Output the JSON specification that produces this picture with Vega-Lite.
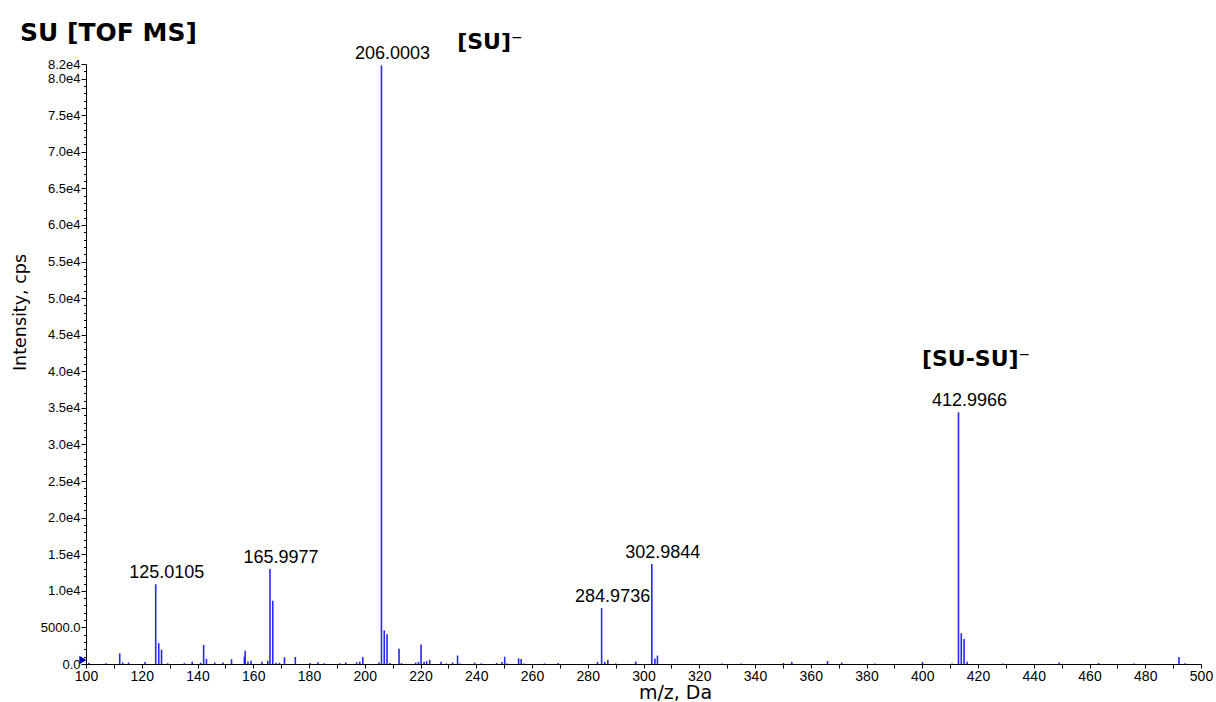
{
  "$schema": "https://vega.github.io/schema/vega-lite/v6.json",
  "width": 1115,
  "height": 600,
  "autosize": {"type": "none"},
  "padding": {"left": 86, "top": 64, "right": 15, "bottom": 38},
  "background": "white",
  "config": {
    "view": {"stroke": null},
    "font": "Liberation Sans",
    "axis": {"labelOverlap": false, "labelFlush": false, "labelBound": false, "grid": false}
  },
  "title": {
    "text": "SU [TOF MS]",
    "anchor": "start",
    "frame": "group",
    "font": "DejaVu Sans",
    "fontWeight": "bold",
    "fontSize": 25,
    "color": "#000000",
    "dx": -66,
    "dy": 35,
    "offset": 0,
    "baseline": "alphabetic"
  },
  "datasets": {
    "peaks": [
      {"mz": 101.0, "intensity": 150},
      {"mz": 107.2, "intensity": 100},
      {"mz": 112.1, "intensity": 1450},
      {"mz": 113.2, "intensity": 200},
      {"mz": 115.3, "intensity": 200},
      {"mz": 121.2, "intensity": 270},
      {"mz": 125.0105, "intensity": 10900},
      {"mz": 126.1, "intensity": 2850},
      {"mz": 127.1, "intensity": 1960},
      {"mz": 129.3, "intensity": 100},
      {"mz": 135.3, "intensity": 120},
      {"mz": 138.1, "intensity": 300},
      {"mz": 141.1, "intensity": 180},
      {"mz": 142.2, "intensity": 2600},
      {"mz": 143.2, "intensity": 700},
      {"mz": 146.2, "intensity": 200},
      {"mz": 149.1, "intensity": 200},
      {"mz": 152.2, "intensity": 650},
      {"mz": 156.8, "intensity": 1000},
      {"mz": 157.1, "intensity": 1820},
      {"mz": 158.1, "intensity": 350},
      {"mz": 159.2, "intensity": 450},
      {"mz": 163.1, "intensity": 320},
      {"mz": 165.2, "intensity": 450},
      {"mz": 165.9977, "intensity": 13000},
      {"mz": 167.0, "intensity": 8650},
      {"mz": 168.2, "intensity": 180},
      {"mz": 169.4, "intensity": 180},
      {"mz": 171.2, "intensity": 920},
      {"mz": 175.1, "intensity": 960},
      {"mz": 180.4, "intensity": 150},
      {"mz": 183.2, "intensity": 230},
      {"mz": 185.5, "intensity": 100},
      {"mz": 191.0, "intensity": 100},
      {"mz": 193.2, "intensity": 200},
      {"mz": 197.1, "intensity": 230},
      {"mz": 198.2, "intensity": 320},
      {"mz": 199.3, "intensity": 950},
      {"mz": 205.1, "intensity": 200},
      {"mz": 206.0003, "intensity": 81800},
      {"mz": 207.0, "intensity": 4600},
      {"mz": 208.0, "intensity": 4050},
      {"mz": 209.0, "intensity": 150},
      {"mz": 212.3, "intensity": 2100},
      {"mz": 213.2, "intensity": 120},
      {"mz": 218.3, "intensity": 200},
      {"mz": 219.3, "intensity": 280},
      {"mz": 220.2, "intensity": 2650},
      {"mz": 221.3, "intensity": 320},
      {"mz": 222.2, "intensity": 380},
      {"mz": 223.3, "intensity": 570},
      {"mz": 227.4, "intensity": 320},
      {"mz": 229.2, "intensity": 80},
      {"mz": 231.5, "intensity": 200},
      {"mz": 233.3, "intensity": 1160},
      {"mz": 234.2, "intensity": 80},
      {"mz": 239.4, "intensity": 180},
      {"mz": 241.8, "intensity": 80},
      {"mz": 247.3, "intensity": 140},
      {"mz": 249.2, "intensity": 280},
      {"mz": 250.2, "intensity": 1000},
      {"mz": 251.1, "intensity": 80},
      {"mz": 255.2, "intensity": 770},
      {"mz": 256.1, "intensity": 680},
      {"mz": 257.1, "intensity": 80},
      {"mz": 264.5, "intensity": 80},
      {"mz": 269.4, "intensity": 140},
      {"mz": 283.5, "intensity": 270},
      {"mz": 284.9736, "intensity": 7650},
      {"mz": 286.1, "intensity": 300},
      {"mz": 287.2, "intensity": 550},
      {"mz": 290.0, "intensity": 80},
      {"mz": 297.2, "intensity": 330},
      {"mz": 302.9844, "intensity": 13650},
      {"mz": 304.1, "intensity": 750},
      {"mz": 305.0, "intensity": 1150},
      {"mz": 328.2, "intensity": 80},
      {"mz": 335.0, "intensity": 70},
      {"mz": 350.2, "intensity": 140},
      {"mz": 353.2, "intensity": 270},
      {"mz": 366.0, "intensity": 400},
      {"mz": 371.1, "intensity": 180},
      {"mz": 383.0, "intensity": 70},
      {"mz": 400.1, "intensity": 280},
      {"mz": 410.7, "intensity": 80},
      {"mz": 412.9966, "intensity": 34400},
      {"mz": 414.0, "intensity": 4200},
      {"mz": 415.0, "intensity": 3400},
      {"mz": 416.1, "intensity": 320},
      {"mz": 429.0, "intensity": 70},
      {"mz": 449.1, "intensity": 220},
      {"mz": 463.3, "intensity": 140},
      {"mz": 476.0, "intensity": 70},
      {"mz": 492.1, "intensity": 950},
      {"mz": 494.3, "intensity": 100}
    ],
    "labels": [
      {"mz": 125.0105, "intensity": 10900, "label": "125.0105"},
      {"mz": 165.9977, "intensity": 13000, "label": "165.9977"},
      {"mz": 206.0003, "intensity": 81800, "label": "206.0003"},
      {"mz": 284.9736, "intensity": 7650, "label": "284.9736"},
      {"mz": 302.9844, "intensity": 13650, "label": "302.9844"},
      {"mz": 412.9966, "intensity": 34400, "label": "412.9966"}
    ],
    "ions": [
      {"mz": 244.9, "intensity": 85000, "ion": "[SU]⁻"},
      {"mz": 419.3, "intensity": 41680, "ion": "[SU-SU]⁻"}
    ],
    "marker": [
      {"mz": 98.9, "intensity": 550}
    ]
  },
  "encoding": {
    "x": {
      "field": "mz",
      "type": "quantitative",
      "scale": {"domain": [100, 500], "nice": false, "zero": false},
      "axis": {
        "values": [100,110,120,130,140,150,160,170,180,190,200,210,220,230,240,250,260,270,280,290,300,310,320,330,340,350,360,370,380,390,400,410,420,430,440,450,460,470,480,490,500],
        "labelExpr": "datum.value % 20 == 0 ? datum.label : ''",
        "grid": false,
        "tickSize": 4,
        "tickColor": "#000000",
        "domainColor": "#000000",
        "labelColor": "#000000",
        "labelFontSize": 14,
        "labelPadding": 1,
        "labelOverlap": false,
        "labelFlush": false,
        "title": "m/z, Da",
        "titleFont": "DejaVu Sans",
        "titleFontSize": 19,
        "titleFontWeight": "normal",
        "titleColor": "#000000",
        "titleX": 589,
        "titleY": 28,
        "titleAlign": "center",
        "titleBaseline": "middle"
      }
    },
    "y": {
      "field": "intensity",
      "type": "quantitative",
      "scale": {"domain": [0, 82000], "nice": false},
      "axis": {
        "values": [0,1000,2000,3000,4000,5000,6000,7000,8000,9000,10000,11000,12000,13000,14000,15000,16000,17000,18000,19000,20000,21000,22000,23000,24000,25000,26000,27000,28000,29000,30000,31000,32000,33000,34000,35000,36000,37000,38000,39000,40000,41000,42000,43000,44000,45000,46000,47000,48000,49000,50000,51000,52000,53000,54000,55000,56000,57000,58000,59000,60000,61000,62000,63000,64000,65000,66000,67000,68000,69000,70000,71000,72000,73000,74000,75000,76000,77000,78000,79000,80000,81000,82000],
        "labelExpr": "(datum.value % 5000 == 0 || datum.value == 82000) ? (datum.value == 0 ? '0.0' : (datum.value < 10000 ? format(datum.value, '.1f') : replace(format(datum.value, '.1e'), 'e+', 'e'))) : ''",
        "grid": false,
        "tickSize": {"condition": {"test": "datum.value % 5000 == 0 || datum.value == 82000", "value": 5}, "value": 2.5},
        "tickColor": "#000000",
        "domainColor": "#000000",
        "labelColor": "#000000",
        "labelFontSize": 13,
        "labelPadding": 1,
        "labelOverlap": false,
        "labelFlush": false,
        "title": "Intensity, cps",
        "titleFont": "DejaVu Sans",
        "titleFontSize": 17.5,
        "titleFontWeight": "normal",
        "titleColor": "#000000",
        "titleX": -66,
        "titleY": 248,
        "titleAlign": "center",
        "titleBaseline": "middle"
      }
    }
  },
  "layer": [
    {
      "data": {"name": "peaks"},
      "mark": {"type": "rule", "color": "#2626ff", "strokeWidth": 1.6},
      "encoding": {
        "y2": {"datum": 0}
      }
    },
    {
      "data": {"name": "labels"},
      "mark": {"type": "text", "fontSize": 18, "dx": 11, "dy": -11, "align": "center", "baseline": "middle", "color": "#000000"},
      "encoding": {
        "text": {"field": "label", "type": "nominal"}
      }
    },
    {
      "data": {"name": "ions"},
      "mark": {"type": "text", "font": "DejaVu Sans", "fontWeight": "bold", "fontSize": 22, "align": "center", "baseline": "middle", "color": "#000000"},
      "encoding": {
        "text": {"field": "ion", "type": "nominal"}
      }
    },
    {
      "data": {"name": "marker"},
      "mark": {"type": "point", "shape": "triangle-right", "filled": true, "size": 70, "color": "#0000b4", "opacity": 1, "clip": false},
      "encoding": {}
    }
  ]
}
